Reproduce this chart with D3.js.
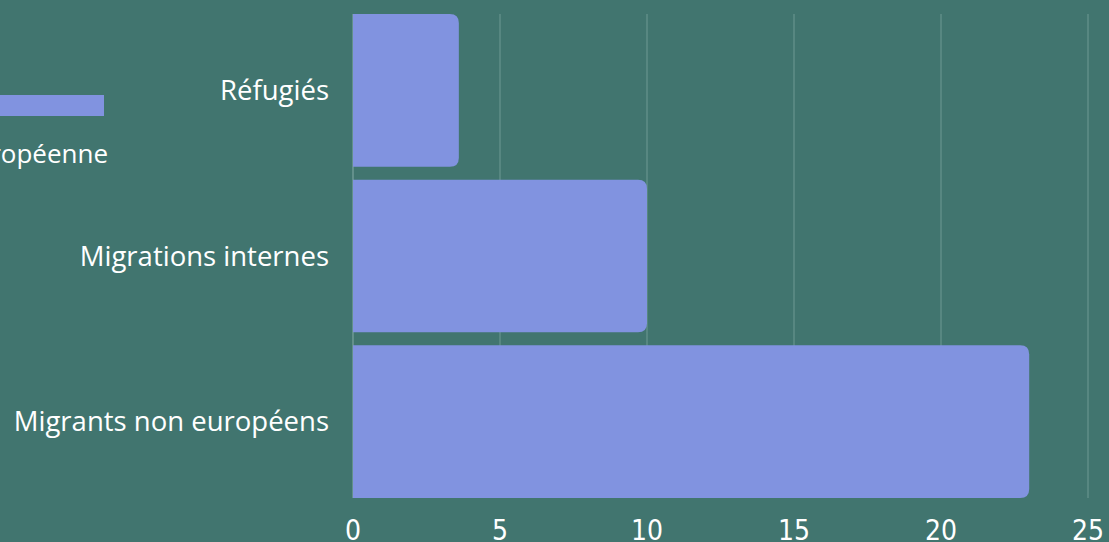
<!DOCTYPE html>
<html><head><meta charset="utf-8">
<script src="https://cdn.jsdelivr.net/npm/d3@7"></script>
<style>html,body{margin:0;padding:0;background:#41756f;overflow:hidden}</style>
</head><body>
<svg id="c" width="1109" height="542"></svg>
<script>
const categories = ["Réfugiés", "Migrations internes", "Migrants non européens"];
const values = [3.6, 10, 23];
const ticks = [0, 5, 10, 15, 20, 25];
const legendLabel = "Union européenne";

const svg = d3.select("#c");
const barColor = "#8193e0", gridColor = "#6f9a94";
const font = "'Open Sans', 'Noto Sans', sans-serif";
const tickFont = "'DejaVu Sans Condensed', 'Liberation Sans Narrow', 'Open Sans', sans-serif";

const x = d3.scaleLinear().domain([0, 25]).range([353, 1088]);
const y = d3.scaleBand().domain(categories).range([7.5, 504.5]).paddingInner(0.078).paddingOuter(0.04);

// grid
svg.append("g").selectAll("line").data(ticks.slice(1)).join("line")
  .attr("x1", d => x(d)).attr("x2", d => x(d)).attr("y1", 14).attr("y2", 498)
  .attr("stroke", gridColor).attr("stroke-width", 1);
svg.append("line").attr("x1", x(0)).attr("x2", x(0)).attr("y1", 14).attr("y2", 498)
  .attr("stroke", gridColor).attr("stroke-width", 1.5);

// bars: rounded right side
const r = 9;
svg.append("g").selectAll("path").data(categories).join("path")
  .attr("fill", barColor)
  .attr("d", (c, i) => {
    const x0 = x(0), x1 = x(values[i]), y0 = y(c), h = y.bandwidth();
    return `M${x0},${y0}H${x1 - r}Q${x1},${y0} ${x1},${y0 + r}V${y0 + h - r}Q${x1},${y0 + h} ${x1 - r},${y0 + h}H${x0}Z`;
  });

// category labels
svg.append("g").selectAll("text").data(categories).join("text")
  .attr("x", 329).attr("y", c => y(c) + y.bandwidth() / 2)
  .attr("dy", "0.35em").attr("text-anchor", "end")
  .attr("fill", "#ffffff").attr("font-family", font).attr("font-size", 27.5)
  .text(c => c);

// x tick labels
svg.append("g").selectAll("text").data(ticks).join("text")
  .attr("x", d => x(d)).attr("y", 540)
  .attr("text-anchor", "middle")
  .attr("fill", "#ffffff").attr("font-family", tickFont).attr("font-size", 28)
  .text(d => d);

// legend (partially off-canvas)
svg.append("rect").attr("x", -60).attr("y", 95).attr("width", 164).attr("height", 21).attr("fill", barColor);
svg.append("text").attr("x", 108).attr("y", 163).attr("text-anchor", "end")
  .attr("fill", "#ffffff").attr("font-family", font).attr("font-size", 26)
  .text(legendLabel);
</script>
</body></html>
